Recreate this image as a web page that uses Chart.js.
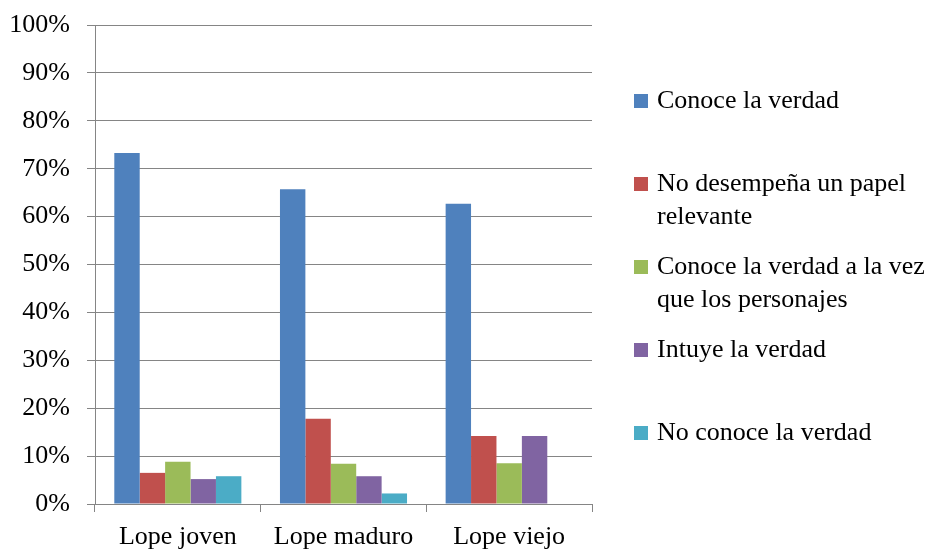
<!DOCTYPE html>
<html lang="es">
<head>
<meta charset="utf-8">
<title>Lope: conocimiento de la verdad</title>
<script src="https://cdn.jsdelivr.net/npm/chart.js@4/dist/chart.umd.min.js"></script>
<style>
  html, body { margin: 0; padding: 0; background: #ffffff; }
  #chart { display: block; }
</style>
</head>
<body>
<canvas id="chart" width="927" height="551"></canvas>
<script>
// Categories (periods of Lope's work)
const categories = ['Lope joven', 'Lope maduro', 'Lope viejo'];

// Series names
const seriesNames = [
  'Conoce la verdad',
  'No desempeña un papel relevante',
  'Conoce la verdad a la vez que los personajes',
  'Intuye la verdad',
  'No conoce la verdad'
];

// Percentages per series, one value per category
const conoceLaVerdad   = [73.3, 65.7, 62.7];
const noDesempena      = [6.5, 17.8, 14.2];
const alaVezPersonajes = [8.8, 8.4, 8.5];
const intuyeLaVerdad   = [5.2, 5.8, 14.2];
const noConoce         = [5.8, 2.2, 0];

// Y-axis tick values
const yTickValues = [0, 10, 20, 30, 40, 50, 60, 70, 80, 90, 100];

const seriesColors = ['#4F81BD', '#C0504D', '#9BBB59', '#8064A2', '#4BACC6'];
const seriesValues = [conoceLaVerdad, noDesempena, alaVezPersonajes, intuyeLaVerdad, noConoce];

const fontFamily = "'Liberation Serif', 'DejaVu Serif', serif";
const fontSize = 26;
const axisFont = { family: fontFamily, size: fontSize };
const lineGrey = '#858585';

// Legend drawn at the right of the plot, entries wrapped to a fixed width
const sideLegend = {
  id: 'sideLegend',
  afterDraw(chart) {
    const ctx = chart.ctx;
    const x0 = 634, firstCenter = 101, step = 83, lineH = 33, maxW = 276;
    ctx.save();
    ctx.font = fontSize + 'px ' + fontFamily;
    ctx.textBaseline = 'middle';
    ctx.textAlign = 'left';
    chart.data.datasets.forEach((ds, i) => {
      const cy = firstCenter + i * step;
      ctx.fillStyle = ds.backgroundColor;
      ctx.fillRect(x0, cy - 7, 14, 14);
      // word wrap
      const words = ds.label.split(' ');
      const lines = [];
      let cur = '';
      words.forEach(w => {
        const test = cur ? cur + ' ' + w : w;
        if (ctx.measureText(test).width > maxW && cur) { lines.push(cur); cur = w; }
        else cur = test;
      });
      if (cur) lines.push(cur);
      ctx.fillStyle = '#000';
      lines.forEach((ln, k) => ctx.fillText(ln, x0 + 23, cy + k * lineH));
    });
    ctx.restore();
  }
};

const chart = new Chart(document.getElementById('chart'), {
  type: 'bar',
  data: {
    labels: categories,
    datasets: seriesNames.map((name, i) => ({
      label: name,
      data: seriesValues[i],
      backgroundColor: seriesColors[i],
      borderWidth: 0,
      categoryPercentage: 0.767,
      barPercentage: 1.0
    }))
  },
  options: {
    responsive: false,
    animation: false,
    devicePixelRatio: 1,
    layout: { padding: { left: 0, right: 335, top: 25, bottom: 0 } },
    plugins: {
      legend: { display: false },
      tooltip: { enabled: false }
    },
    scales: {
      x: {
        offset: true,
        grid: {
          display: true,
          offset: true,
          drawOnChartArea: false,
          drawTicks: true,
          tickLength: 8,
          color: lineGrey,
          lineWidth: 1
        },
        border: { display: true, color: lineGrey, width: 1 },
        ticks: { font: axisFont, color: '#000', padding: 10, maxRotation: 0 },
        afterFit: (s) => { s.height = 47; s.paddingLeft = 0; s.paddingRight = 0; }
      },
      y: {
        min: 0,
        max: 100,
        afterBuildTicks: (s) => { s.ticks = yTickValues.map(v => ({ value: v })); },
        grid: {
          color: lineGrey,
          lineWidth: 1,
          drawTicks: true,
          tickLength: 8
        },
        border: { display: true, color: lineGrey, width: 1 },
        ticks: {
          font: axisFont,
          color: '#000',
          padding: 17,
          callback: (v) => v + '%'
        },
        afterFit: (s) => { s.width = 95; s.paddingTop = 0; s.paddingBottom = 0; }
      }
    }
  },
  plugins: [sideLegend]
});
</script>
</body>
</html>
